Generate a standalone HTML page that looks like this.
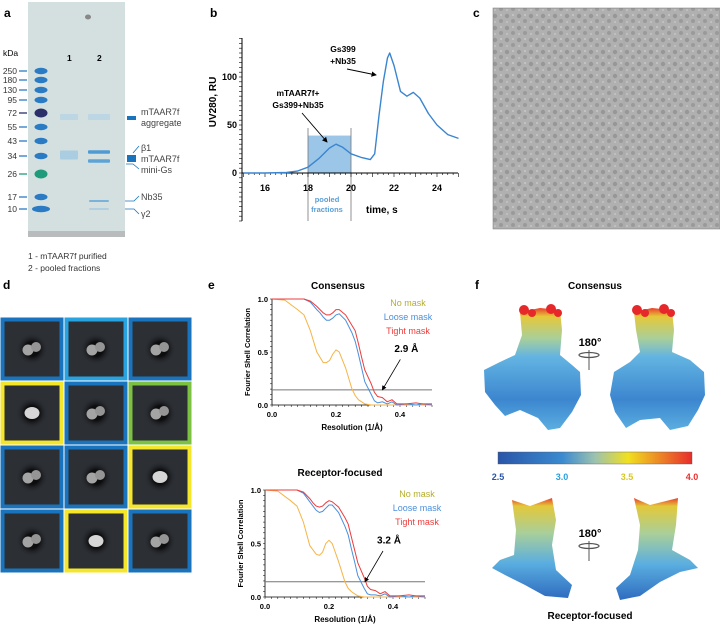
<!DOCTYPE html>
<html><head><meta charset="utf-8"><style>
html,body{margin:0;padding:0;background:#fff;}
svg{display:block;font-family:"Liberation Sans",sans-serif;}
</style></head><body>
<svg id="fig" width="720" height="624" viewBox="0 0 720 624">
<defs>
<linearGradient id="mapgrad" x1="0" y1="0" x2="0" y2="1">
<stop offset="0" stop-color="#e8402a"/><stop offset="0.07" stop-color="#e6c83a"/><stop offset="0.25" stop-color="#a8cf9a"/><stop offset="0.4" stop-color="#63b4e2"/><stop offset="0.75" stop-color="#3c86cf"/><stop offset="1" stop-color="#5aaee0"/>
</linearGradient>
<linearGradient id="mapgrad2" x1="0" y1="0" x2="0" y2="1">
<stop offset="0" stop-color="#e8402a"/><stop offset="0.08" stop-color="#e3c83a"/><stop offset="0.35" stop-color="#a9cf9a"/><stop offset="0.65" stop-color="#5aaee0"/><stop offset="1" stop-color="#2f6cc0"/>
</linearGradient>
<linearGradient id="cbar" x1="0" y1="0" x2="1" y2="0">
<stop offset="0" stop-color="#2a55a8"/><stop offset="0.33" stop-color="#3a8ad0"/><stop offset="0.5" stop-color="#9cc2b0"/><stop offset="0.67" stop-color="#f0e020"/><stop offset="1" stop-color="#e82c2c"/>
</linearGradient>
<radialGradient id="halo"><stop offset="0.45" stop-color="#0c0d0e"/><stop offset="1" stop-color="#2c2f34" stop-opacity="0"/></radialGradient>
<pattern id="speck" width="12" height="12" patternUnits="userSpaceOnUse">
<rect width="12" height="12" fill="#b0b0b0"/><circle cx="3" cy="4" r="2.2" fill="#979797"/><circle cx="9" cy="9" r="2" fill="#9a9a9a"/><circle cx="9" cy="3" r="0.9" fill="#cfcfcf"/><circle cx="3" cy="10" r="0.9" fill="#cacaca"/>
</pattern>
<marker id="arr" markerWidth="6" markerHeight="6" refX="5" refY="3" orient="auto"><path d="M0,0 L6,3 L0,6 z" fill="#000"/></marker>
</defs>

<g>
<text x="4" y="17" font-size="12" font-weight="bold">a</text>
<text x="3" y="56" font-size="8.5">kDa</text>
<rect x="28" y="2" width="97" height="235" fill="#d3e0df"/>
<rect x="28" y="231" width="97" height="6" fill="#b9bcbc"/>
<ellipse cx="88" cy="17" rx="3" ry="2.5" fill="#888"/>
<text x="67" y="61" font-size="8.5" font-weight="bold">1</text>
<text x="97" y="61" font-size="8.5" font-weight="bold">2</text>
<g id="ladder"></g>
<g id="lanes"></g>
<g id="rightlabels"></g>
<text x="28" y="259" font-size="8.5" fill="#333">1 - mTAAR7f purified</text>
<text x="28" y="271" font-size="8.5" fill="#333">2 - pooled fractions</text>
</g>

<g id="panelb">
<text x="210" y="17" font-size="12" font-weight="bold">b</text>
</g>

<g>
<text x="473" y="17" font-size="12" font-weight="bold">c</text>
<rect x="493" y="8" width="227" height="221" fill="url(#speck)" stroke="#777" stroke-width="0.5"/>
<line x1="624" y1="8" x2="624" y2="229" stroke="#999" stroke-width="0.4"/>
</g>

<g id="paneld">
<text x="3" y="289" font-size="12" font-weight="bold">d</text>
</g>

<g id="panele">
<text x="208" y="289" font-size="12" font-weight="bold">e</text>
<text x="338" y="289" font-size="10" font-weight="bold" text-anchor="middle">Consensus</text>
<text x="340" y="476" font-size="10" font-weight="bold" text-anchor="middle">Receptor-focused</text>
</g>

<g>
<text x="475" y="289" font-size="12" font-weight="bold">f</text>
<text x="595" y="289" font-size="10" font-weight="bold" text-anchor="middle">Consensus</text>
<path d="M520,312 L540,308 L560,310 L562,330 L560,355 L572,365 L580,372 L581,395 L572,412 L560,428 L548,430 L538,418 L520,410 L505,416 L495,405 L485,392 L484,370 L500,362 L515,355 L522,335 Z" fill="url(#mapgrad)"/>
<path d="M634,312 L652,308 L672,310 L674,330 L672,352 L690,360 L704,372 L705,395 L698,410 L688,426 L670,430 L660,418 L640,420 L626,428 L615,412 L610,395 L614,372 L630,362 L640,352 L636,330 Z" fill="url(#mapgrad)"/>
<g fill="#e6282a"><circle cx="524" cy="310" r="5"/><circle cx="532" cy="313" r="4"/><circle cx="551" cy="309" r="5"/><circle cx="558" cy="313" r="4"/><circle cx="637" cy="310" r="5"/><circle cx="645" cy="313" r="4"/><circle cx="664" cy="309" r="5"/><circle cx="671" cy="313" r="4"/></g>
<text x="590" y="346" font-size="11" font-weight="bold" text-anchor="middle">180°</text>
<ellipse cx="589" cy="355" rx="10" ry="2.5" fill="none" stroke="#555" stroke-width="1.2"/><line x1="589" y1="350" x2="589" y2="370" stroke="#555" stroke-width="1"/>
<rect x="498" y="452" width="194" height="12" fill="url(#cbar)" stroke="#555" stroke-width="0.4"/>
<text x="498" y="480" font-size="9" font-weight="bold" fill="#2a55a8" text-anchor="middle">2.5</text>
<text x="562" y="480" font-size="9" font-weight="bold" fill="#2aa0dc" text-anchor="middle">3.0</text>
<text x="627" y="480" font-size="9" font-weight="bold" fill="#d8c820" text-anchor="middle">3.5</text>
<text x="692" y="480" font-size="9" font-weight="bold" fill="#e83030" text-anchor="middle">4.0</text>
<path d="M512,500 L530,506 L552,498 L556,520 L552,545 L556,570 L572,585 L568,598 L545,596 L525,585 L505,575 L492,568 L500,560 L514,555 L516,530 Z" fill="url(#mapgrad2)"/>
<path d="M634,498 L650,505 L678,498 L676,525 L672,550 L690,560 L698,568 L680,572 L660,582 L640,596 L620,600 L616,588 L630,575 L638,550 L640,525 Z" fill="url(#mapgrad2)"/>
<text x="590" y="537" font-size="11" font-weight="bold" text-anchor="middle">180°</text>
<ellipse cx="589" cy="546" rx="10" ry="2.5" fill="none" stroke="#555" stroke-width="1.2"/><line x1="589" y1="541" x2="589" y2="561" stroke="#555" stroke-width="1"/>
<text x="590" y="619" font-size="10" font-weight="bold" text-anchor="middle">Receptor-focused</text>
</g>
</svg>
<script>
const NS='http://www.w3.org/2000/svg';
function mk(tag,attrs,parent){const e=document.createElementNS(NS,tag);for(const k in attrs)e.setAttribute(k,attrs[k]);parent.appendChild(e);return e;}

const ladderKda=[250,180,130,95,72,55,43,34,26,17,10];
const ladderY=[71,80,90,100,113,127,141,156,174,197,209];

const secTime=[15,16,17,17.5,18,18.5,19,19.3,19.6,20,20.5,20.9,21.1,21.3,21.5,21.7,21.8,22.0,22.3,22.6,22.9,23.2,23.6,24,24.5,25];
const secUV=[0,0,0.5,2,6,15,26,30,27,20,16,14,20,60,95,120,125,112,85,80,84,78,62,50,40,36];
const secTicksX=[16,18,20,22,24];
const secTicksY=[0,50,100];
const pooledRange=[18,20];
const pooledTop=39;

const fscRes=[0,0.04,0.08,0.1,0.12,0.14,0.15,0.16,0.17,0.18,0.19,0.2,0.21,0.23,0.25,0.26,0.27,0.28,0.29,0.31,0.32,0.33,0.345,0.36,0.375,0.39,0.42,0.45,0.47,0.5];
const fscTightC=[1,1,1,1,0.98,0.93,0.9,0.87,0.85,0.85,0.87,0.9,0.9,0.85,0.75,0.7,0.58,0.45,0.33,0.2,0.12,0.08,0.07,0.03,0.05,0.01,0.01,0.02,0.01,0.01];
const fscLooseC=[1,1,1,1,0.97,0.9,0.87,0.83,0.8,0.8,0.82,0.85,0.86,0.8,0.68,0.6,0.48,0.35,0.22,0.1,0.04,0.02,0.03,0.01,0.03,0,0.01,0,0.01,0];
const fscNoC=[1,0.99,0.9,0.85,0.7,0.5,0.45,0.4,0.4,0.42,0.48,0.52,0.5,0.35,0.15,0.09,0.05,0.03,0.01,0,0,0,0,0,0,0,0,0,0,0];
const fscTightR=[1,1,1,1,0.98,0.92,0.88,0.85,0.84,0.85,0.88,0.9,0.89,0.84,0.74,0.68,0.56,0.44,0.32,0.18,0.1,0.07,0.06,0.03,0.05,0.01,0.01,0.02,0.01,0.01];
const fscLooseR=[1,1,1,1,0.97,0.89,0.85,0.81,0.79,0.8,0.83,0.86,0.86,0.79,0.66,0.58,0.45,0.33,0.2,0.08,0.03,0.02,0.02,0.01,0.03,0,0.01,0,0.01,0];
const fscNoR=[1,0.99,0.9,0.85,0.7,0.48,0.44,0.4,0.39,0.42,0.5,0.53,0.5,0.33,0.14,0.08,0.05,0.03,0.01,0,0,0,0,0,0,0,0,0,0,0];
const fscTicksX=[0,0.2,0.4];
const fscTicksY=[0,0.5,1];
const fscThreshold=0.143;

const classColors=['#1a74bd','#29a3e0','#1a74bd','#f4e62a','#1a74bd','#7cc142','#1a74bd','#1a74bd','#f4e62a','#1a74bd','#f4e62a','#1a74bd'];

(function(){
  const lad=document.getElementById('ladder');
  ladderKda.forEach((k,i)=>{
    const y=ladderY[i];
    const t=mk('text',{x:17,y:y+3,'font-size':8.5,'text-anchor':'end',fill:'#333'},lad);t.textContent=k;
    
    
    const col=k===72?'#2a2f6a':(k===26?'#1f9a7a':'#2a7bc4');
    mk('line',{x1:19,y1:y,x2:27,y2:y,stroke:col,'stroke-width':1.3},lad);
    const b=mk('ellipse',{cx:41,cy:y,rx:k===10?9:6.5,ry:k===72||k===26?4.5:3.2,fill:col},lad);
    
    
  });
  const ln=document.getElementById('lanes');
  const bands=[[69,117,18,6,'#bcd6e4'],[69,155,18,9,'#aacde2'],[99,117,22,6,'#bcd6e4'],[99,152,22,3.5,'#4f9ad2'],[99,161,22,3.5,'#5ea3d6'],[99,201,20,2,'#7ab2da'],[99,209,20,1.5,'#a6c9e2']];
  bands.forEach(b=>{const r=mk('rect',{x:b[0]-b[2]/2,y:b[1]-b[3]/2,width:b[2],height:b[3],fill:b[4],rx:1},ln);
    
    });
  const rl=document.getElementById('rightlabels');
  const lab=[['mTAAR7f',115],['aggregate',126],['β1',151],['mTAAR7f',162],['mini-Gs',173],['Nb35',200],['γ2',217]];
  lab.forEach(l=>{const t=mk('text',{x:141,y:l[1],'font-size':9,fill:'#444'},rl);t.textContent=l[0];
    
    });
  mk('rect',{x:127,y:116,width:9,height:4,fill:'#1a74bd'},rl);
  mk('rect',{x:127,y:155,width:9,height:7,fill:'#1a74bd'},rl);
  mk('path',{d:'M126,164 L133,164 L139,169 M133,153 L139,146 M125,201 L134,201 L139,196 M125,209 L134,209 L139,214',stroke:'#1a74bd',fill:'none','stroke-width':0.8},rl);
})();

(function(){
  const g=document.getElementById('panelb');
  const xs=t=>265+(t-16)*(437-265)/8;
  const ys=v=>173-v*0.96;
  const box=mk('rect',{x:xs(pooledRange[0]),y:ys(pooledTop),width:xs(pooledRange[1])-xs(pooledRange[0]),height:ys(0)-ys(pooledTop),fill:'#9cc6e8'},g);
  
  
  pooledRange.forEach(t=>mk('line',{x1:xs(t),y1:128,x2:xs(t),y2:221,stroke:'#777','stroke-width':0.8},g));
  mk('line',{x1:242,y1:38,x2:242,y2:221,stroke:'#000','stroke-width':1},g);
  for(let v=-50;v<=140;v+=5){const y=ys(v);if(y<38||y>221)continue;mk('line',{x1:239,y1:y,x2:242,y2:y,stroke:'#000','stroke-width':0.6},g);}
  mk('line',{x1:242,y1:ys(0),x2:458,y2:ys(0),stroke:'#000','stroke-width':1},g);
  for(let t=15;t<=25;t+=0.25){mk('line',{x1:xs(t),y1:ys(0),x2:xs(t),y2:ys(0)+(t%1===0?4:2),stroke:'#000','stroke-width':0.6},g);}
  secTicksY.forEach(v=>{const t=mk('text',{x:237,y:ys(v)+3,'font-size':9,'font-weight':'bold','text-anchor':'end'},g);t.textContent=v;
    
    });
  secTicksX.forEach(v=>{const t=mk('text',{x:xs(v),y:191,'font-size':9,'font-weight':'bold','text-anchor':'middle'},g);t.textContent=v;
    
    });
  let d='';secTime.forEach((t,i)=>{d+=(i?'L':'M')+xs(t).toFixed(1)+','+ys(secUV[i]).toFixed(1);});
  const p=mk('path',{d:d,fill:'none',stroke:'#3a85d0','stroke-width':1.4,'stroke-linejoin':'round'},g);
  
  
  const yl=mk('text',{x:0,y:0,'font-size':10,'font-weight':'bold','text-anchor':'middle',transform:'translate(216,102) rotate(-90)'},g);yl.textContent='UV280, RU';
  
  
  const xl=mk('text',{x:366,y:213,'font-size':10,'font-weight':'bold'},g);xl.textContent='time, s';
  
  
  [['pooled',202],['fractions',212]].forEach(a=>{const t=mk('text',{x:327,y:a[1],'font-size':7.5,'font-weight':'bold',fill:'#5b9fd6','text-anchor':'middle'},g);t.textContent=a[0];
    
    });
  [['Gs399',52,343],['+Nb35',64,343],['mTAAR7f+',96,298],['Gs399+Nb35',108,298]].forEach(a=>{const t=mk('text',{x:a[2],y:a[1],'font-size':8.5,'font-weight':'bold','text-anchor':'middle'},g);t.textContent=a[0];
    
    });
  mk('line',{x1:347,y1:69,x2:376,y2:75,stroke:'#000','stroke-width':0.9,'marker-end':'url(#arr)'},g);
  mk('line',{x1:302,y1:113,x2:327,y2:142,stroke:'#000','stroke-width':0.9,'marker-end':'url(#arr)'},g);
})();

(function(){
  const g=document.getElementById('paneld');
  classColors.forEach((c,i)=>{
    const col=i%3,row=Math.floor(i/3);
    const x=col*64,y=317+row*64;
    const r=mk('rect',{x:x+2.5,y:y+2.5,width:59,height:59,fill:'#2c2f34',stroke:c,'stroke-width':4},g);
    
    
    mk('circle',{cx:x+32,cy:y+32,r:16,fill:'url(#halo)'},g);
    const bright=c==='#f4e62a';
    if(bright){mk('ellipse',{cx:x+32,cy:y+32,rx:7.5,ry:6,fill:'#d6d6d6'},g);}
    else{mk('circle',{cx:x+28,cy:y+33,r:5.5,fill:'#a4a4a4'},g);mk('circle',{cx:x+36,cy:y+30,r:5,fill:'#959595'},g);}
  });
})();

(function(){
  const g=document.getElementById('panele');
  function fsc(x0,x1,y0,yh,tight,loose,no,res,tag,legX){
    const xs=r=>x0+r*(x1-x0)/0.5;
    const ys=v=>y0-v*yh;
    mk('line',{x1:x0,y1:ys(1),x2:x0,y2:y0,stroke:'#000','stroke-width':0.8},g);
    mk('line',{x1:x0,y1:y0,x2:x1,y2:y0,stroke:'#000','stroke-width':0.8},g);
    for(let v=0;v<=1.001;v+=0.05)mk('line',{x1:x0-2,y1:ys(v),x2:x0,y2:ys(v),stroke:'#000','stroke-width':0.5},g);
    for(let r=0;r<=0.5001;r+=0.02)mk('line',{x1:xs(r),y1:y0,x2:xs(r),y2:y0+2,stroke:'#000','stroke-width':0.5},g);
    fscTicksY.forEach(v=>{const t=mk('text',{x:x0-4,y:ys(v)+3,'font-size':7.5,'font-weight':'bold','text-anchor':'end'},g);t.textContent=v.toFixed(1);
      
      });
    fscTicksX.forEach(v=>{const t=mk('text',{x:xs(v),y:y0+12,'font-size':7.5,'font-weight':'bold','text-anchor':'middle'},g);t.textContent=v.toFixed(1);
      
      });
    mk('line',{x1:x0,y1:ys(fscThreshold),x2:x1,y2:ys(fscThreshold),stroke:'#777','stroke-width':1},g);
    [[no,'#f6b446'],[loose,'#4a8fdc'],[tight,'#ee3b3b']].forEach((s,k)=>{
      let d='';fscRes.forEach((r,i)=>{d+=(i?'L':'M')+xs(r).toFixed(1)+','+ys(s[0][i]).toFixed(1);});
      const p=mk('path',{d:d,fill:'none',stroke:s[1],'stroke-width':1},g);
      
      
    });
    [['No mask','#b5ae2a'],['Loose mask','#4a8fdc'],['Tight mask','#ee3b3b']].forEach((l,k)=>{
      const t=mk('text',{x:legX,y:ys(1)+7+k*14,'font-size':9,fill:l[1],'text-anchor':'middle'},g);t.textContent=l[0];
      
      });
    const yl=mk('text',{x:0,y:0,'font-size':7.5,'font-weight':'bold','text-anchor':'middle',transform:'translate('+(x0-22)+','+ys(0.5)+') rotate(-90)'},g);yl.textContent='Fourier Shell Correlation';
    
    
    const xl=mk('text',{x:xs(0.25),y:y0+25,'font-size':8,'font-weight':'bold','text-anchor':'middle'},g);xl.textContent='Resolution (1/Å)';
    
    
    const rt=mk('text',{x:xs(res)+24,y:ys(0.5),'font-size':10,'font-weight':'bold','text-anchor':'middle'},g);rt.textContent=(1/res).toFixed(1)+' Å';
    
    
    mk('line',{x1:xs(res)+18,y1:ys(0.43),x2:xs(res),y2:ys(fscThreshold),stroke:'#000','stroke-width':0.8,'marker-end':'url(#arr)'},g);
  }
  fsc(272,432,405,106,fscTightC,fscLooseC,fscNoC,1/2.9,'consensus',408);
  fsc(265,425,597,107,fscTightR,fscLooseR,fscNoR,1/3.2,'receptor',417);
})();
</script>
</body></html>
